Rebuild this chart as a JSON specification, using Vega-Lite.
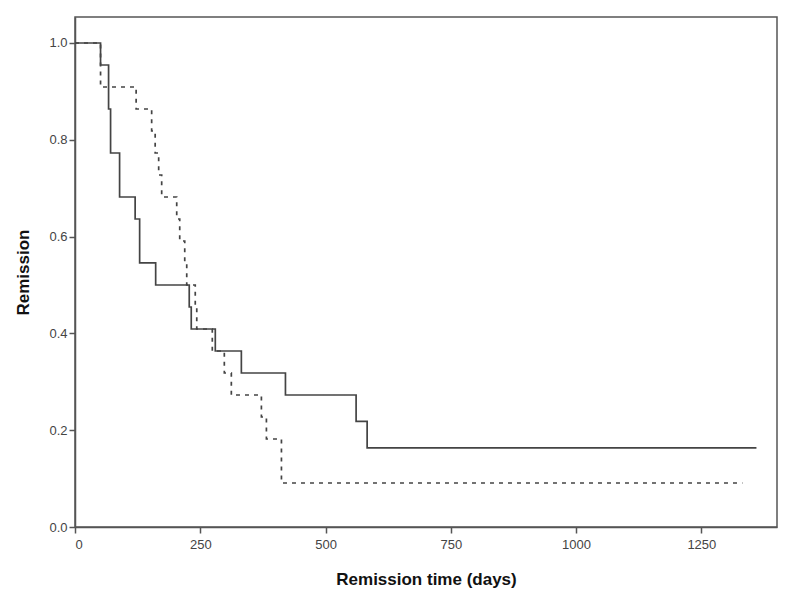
{
  "$schema": "https://vega.github.io/schema/vega-lite/v6.json",
  "width": 702,
  "height": 510,
  "autosize": {"type": "none"},
  "padding": {"left": 75, "top": 17, "right": 19, "bottom": 78},
  "background": "white",
  "config": {
    "view": {"stroke": "#555555", "strokeWidth": 1.5},
    "font": "Liberation Sans",
    "axis": {
      "labelFont": "Liberation Sans",
      "titleFont": "Liberation Sans",
      "labelColor": "#444444",
      "titleColor": "#111111",
      "labelFontSize": 13,
      "titleFontSize": 17,
      "titleFontWeight": "bold",
      "domainColor": "#555555",
      "domainWidth": 1.5,
      "tickColor": "#555555",
      "tickWidth": 1.5,
      "tickSize": 6,
      "grid": false
    }
  },
  "data": {
    "values": [
      {"days": 0, "remission": 1.0, "group": "A"},
      {"days": 51, "remission": 0.9545, "group": "A"},
      {"days": 67, "remission": 0.8636, "group": "A"},
      {"days": 71, "remission": 0.7727, "group": "A"},
      {"days": 89, "remission": 0.6818, "group": "A"},
      {"days": 120, "remission": 0.6364, "group": "A"},
      {"days": 129, "remission": 0.5455, "group": "A"},
      {"days": 161, "remission": 0.5, "group": "A"},
      {"days": 228, "remission": 0.4545, "group": "A"},
      {"days": 232, "remission": 0.4091, "group": "A"},
      {"days": 280, "remission": 0.3636, "group": "A"},
      {"days": 332, "remission": 0.3182, "group": "A"},
      {"days": 420, "remission": 0.2727, "group": "A"},
      {"days": 561, "remission": 0.2182, "group": "A"},
      {"days": 583, "remission": 0.1636, "group": "A"},
      {"days": 1360, "remission": 0.1636, "group": "A"},
      {"days": 0, "remission": 1.0, "group": "B"},
      {"days": 51, "remission": 0.9091, "group": "B"},
      {"days": 122, "remission": 0.8636, "group": "B"},
      {"days": 153, "remission": 0.8182, "group": "B"},
      {"days": 160, "remission": 0.7727, "group": "B"},
      {"days": 167, "remission": 0.7273, "group": "B"},
      {"days": 173, "remission": 0.6818, "group": "B"},
      {"days": 203, "remission": 0.6364, "group": "B"},
      {"days": 209, "remission": 0.5909, "group": "B"},
      {"days": 219, "remission": 0.5455, "group": "B"},
      {"days": 223, "remission": 0.5, "group": "B"},
      {"days": 240, "remission": 0.4545, "group": "B"},
      {"days": 243, "remission": 0.4091, "group": "B"},
      {"days": 274, "remission": 0.3636, "group": "B"},
      {"days": 298, "remission": 0.3182, "group": "B"},
      {"days": 312, "remission": 0.2727, "group": "B"},
      {"days": 372, "remission": 0.2273, "group": "B"},
      {"days": 382, "remission": 0.1818, "group": "B"},
      {"days": 412, "remission": 0.0909, "group": "B"},
      {"days": 1332, "remission": 0.0909, "group": "B"}
    ]
  },
  "mark": {"type": "line", "interpolate": "step-after", "strokeWidth": 1.7, "color": "#444444"},
  "encoding": {
    "x": {
      "field": "days", "type": "quantitative",
      "scale": {"domain": [0, 1401], "nice": false, "zero": true},
      "axis": {"values": [0, 250, 500, 750, 1000, 1250], "format": "d", "title": "Remission time (days)", "titlePadding": 20, "labelPadding": 5}
    },
    "y": {
      "field": "remission", "type": "quantitative",
      "scale": {"domain": [0, 1.0537], "nice": false},
      "axis": {"values": [0, 0.2, 0.4, 0.6, 0.8, 1.0], "format": ".1f", "title": "Remission", "titlePadding": 16, "labelPadding": 2}
    },
    "detail": {"field": "group"},
    "strokeDash": {
      "field": "group", "type": "nominal",
      "scale": {"domain": ["A", "B"], "range": [[1, 0], [4, 5]]},
      "legend": null
    }
  }
}
